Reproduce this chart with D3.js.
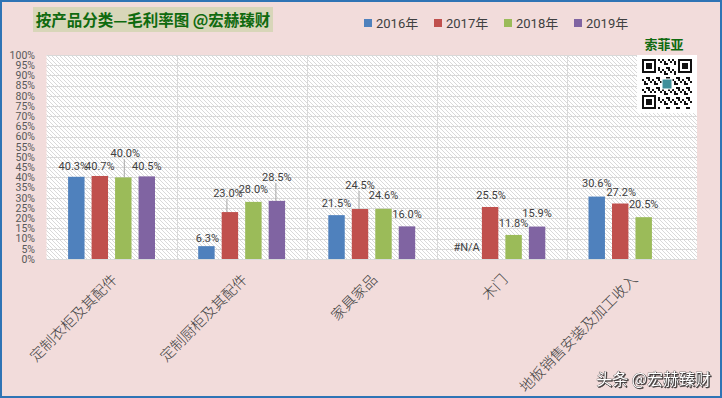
<!DOCTYPE html>
<html>
<head>
<meta charset="utf-8">
<script src="https://cdn.jsdelivr.net/npm/d3@7"></script>
<style>
  html, body { margin: 0; padding: 0; background: #f2dcdb; }
  svg { display: block; }
</style>
</head>
<body>
<div id="chart"></div>
<script>
/* ── Data ─────────────────────────────────────────────────────── */

const categories = ['定制衣柜及其配件', '定制厨柜及其配件', '家具家品', '木门', '地板销售安装及加工收入'];
const years = ['2016年', '2017年', '2018年', '2019年'];
const values2016 = [40.3, 6.3, 21.5, '#N/A', 30.6];
const values2017 = [40.7, 23.0, 24.5, 25.5, 27.2];
const values2018 = [40.0, 28.0, 24.6, 11.8, 20.5];
const values2019 = [40.5, 28.5, 16.0, 15.9, null];
const yTicks = d3.range(0, 101, 5);

const seriesValues = [values2016, values2017, values2018, values2019];
const colors = ['#4f81bd', '#c0504d', '#9bbb59', '#8064a2'];

// manual nudges of data labels (dx, dy) per category / year, as moved in the original
const labelNudge = [
  [[-3, 1], [0, 2], [2, -12], [0, 2]],
  [[1, 4], [-2, -7], [0, -1], [0, -12]],
  [[0, 0], [0, -12], [0, -2], [0, 0]],
  [[0, 0], [1, 0], [0, 0], [0, -2]],
  [[0, -2], [1, 0], [0, -1], [0, 0]],
];

/* ── Layout ───────────────────────────────────────────────────── */

const W = 722, H = 398;
const plot = { left: 46.5, right: 697, top: 55, bottom: 259 };

const svg = d3.select('#chart').append('svg')
  .attr('width', W)
  .attr('height', H)
  .attr('viewBox', `0 0 ${W} ${H}`);

svg.append('rect')
  .attr('x', 1).attr('y', 1)
  .attr('width', W - 2).attr('height', H - 2)
  .attr('fill', '#f2dcdb')
  .attr('stroke', '#2f74b5')
  .attr('stroke-width', 2);

// hatch fill for the plot area
const defs = svg.append('defs');
defs.append('pattern')
  .attr('id', 'hatch')
  .attr('patternUnits', 'userSpaceOnUse')
  .attr('width', 4).attr('height', 4)
  .call(p => p.append('rect').attr('width', 4).attr('height', 4).attr('fill', '#ffffff'))
  .append('path')
  .attr('d', 'M-1,-1L5,5M3,-1L5,1M-1,3L1,5')
  .attr('stroke', '#cfcfcf')
  .attr('stroke-width', 0.8);

/* ── Scales ───────────────────────────────────────────────────── */

const x0 = d3.scaleBand()
  .domain(categories)
  .range([plot.left, plot.right]);

const x1 = d3.scaleBand()
  .domain(years)
  .range([0, x0.bandwidth()])
  .paddingInner(0.3)
  .paddingOuter(0.92);

const y = d3.scaleLinear()
  .domain([0, 100])
  .range([plot.bottom, plot.top]);

/* ── Plot area + grid ─────────────────────────────────────────── */

svg.append('rect')
  .attr('x', plot.left).attr('y', plot.top)
  .attr('width', plot.right - plot.left)
  .attr('height', plot.bottom - plot.top)
  .attr('fill', 'url(#hatch)');

const grid = svg.append('g').attr('stroke', '#d9d9d9').attr('stroke-width', 1);
grid.selectAll('line.h')
  .data(yTicks)
  .join('line')
  .attr('class', 'h')
  .attr('x1', plot.left).attr('x2', plot.right)
  .attr('y1', d => Math.round(y(d)) + 0.5)
  .attr('y2', d => Math.round(y(d)) + 0.5);

grid.selectAll('line.v')
  .data(categories.slice(1))
  .join('line')
  .attr('class', 'v')
  .attr('x1', d => Math.round(x0(d)) + 0.5)
  .attr('x2', d => Math.round(x0(d)) + 0.5)
  .attr('y1', plot.top).attr('y2', plot.bottom);

/* ── Y axis ───────────────────────────────────────────────────── */

const yAxis = svg.append('g')
  .attr('transform', 'translate(35,0)')
  .call(d3.axisLeft(y).tickValues(yTicks).tickFormat(d => d + '%').tickSize(0).tickPadding(0));
yAxis.select('.domain').remove();
yAxis.selectAll('text')
  .attr('fill', '#595959')
  .attr('font-family', 'Roboto, "Liberation Sans", sans-serif')
  .attr('font-size', '10.5px');

/* ── Bars ─────────────────────────────────────────────────────── */

const cells = [];
categories.forEach((cat, i) => {
  years.forEach((yr, j) => {
    cells.push({ cat, yr, i, j, value: seriesValues[j][i] });
  });
});

const barX = d => x0(d.cat) + x1(d.yr);
const barCx = d => barX(d) + x1.bandwidth() / 2;
const numeric = d => typeof d.value === 'number';

svg.append('g').selectAll('rect')
  .data(cells.filter(numeric))
  .join('rect')
  .attr('x', barX)
  .attr('y', d => y(d.value))
  .attr('width', x1.bandwidth())
  .attr('height', d => y(0) - y(d.value))
  .attr('fill', d => colors[d.j]);

/* ── Data labels ──────────────────────────────────────────────── */

const labelled = cells.filter(d => d.value !== null);
const labelPos = d => {
  const [dx, dy] = labelNudge[d.i][d.j];
  const top = numeric(d) ? y(d.value) : y(0);
  return { x: barCx(d) + dx, y: top - 8 + dy, top };
};

// leader lines for labels that were dragged away from their bars
svg.append('g').selectAll('line')
  .data(labelled.filter(d => labelNudge[d.i][d.j][1] <= -7))
  .join('line')
  .attr('x1', d => labelPos(d).x - 1)
  .attr('x2', d => labelPos(d).x - 1)
  .attr('y1', d => labelPos(d).y + 2)
  .attr('y2', d => labelPos(d).top)
  .attr('stroke', '#a6a6a6')
  .attr('stroke-width', 1);

svg.append('g').selectAll('text')
  .data(labelled)
  .join('text')
  .attr('x', d => labelPos(d).x)
  .attr('y', d => labelPos(d).y)
  .attr('text-anchor', 'middle')
  .attr('font-family', 'Roboto, "Liberation Sans", sans-serif')
  .attr('font-size', '11px')
  .attr('fill', '#404040')
  .text(d => numeric(d) ? d.value.toFixed(1) + '%' : d.value);

/* ── Category labels ──────────────────────────────────────────── */

svg.append('g').selectAll('text')
  .data(categories)
  .join('text')
  .attr('transform', d => `translate(${x0(d) + x0.bandwidth() / 2 + 3},277) rotate(-45)`)
  .attr('text-anchor', 'end')
  .attr('dy', '0.35em')
  .attr('font-family', '"Noto Sans CJK SC", sans-serif')
  .attr('font-weight', 300)
  .attr('font-size', '14.5px')
  .attr('fill', '#404040')
  .text(d => d);

/* ── Title ────────────────────────────────────────────────────── */

svg.append('rect')
  .attr('x', 33).attr('y', 7)
  .attr('width', 240).attr('height', 25)
  .attr('fill', '#d8d6b9');
svg.append('text')
  .attr('x', 153).attr('y', 20)
  .attr('dy', '0.36em')
  .attr('text-anchor', 'middle')
  .attr('font-family', '"Noto Sans CJK SC", sans-serif')
  .attr('font-weight', 'bold')
  .attr('font-size', '15.5px')
  .attr('fill', '#0f6a0f')
  .text('按产品分类—毛利率图 @宏赫臻财');

/* ── Legend ───────────────────────────────────────────────────── */

const legend = svg.append('g').selectAll('g')
  .data(years)
  .join('g')
  .attr('transform', (d, i) => `translate(${364 + i * 70},19)`);
legend.append('rect')
  .attr('width', 8).attr('height', 8)
  .attr('fill', (d, i) => colors[i]);
legend.append('text')
  .attr('x', 12).attr('y', 4)
  .attr('dy', '0.36em')
  .attr('font-family', 'Roboto, "Noto Sans CJK SC", sans-serif')
  .attr('font-size', '13px')
  .attr('fill', '#404040')
  .text(d => d);

/* ── Brand + QR decoration ────────────────────────────────────── */

svg.append('text')
  .attr('x', 664).attr('y', 44)
  .attr('dy', '0.36em')
  .attr('text-anchor', 'middle')
  .attr('font-family', '"Noto Sans CJK SC", sans-serif')
  .attr('font-weight', 'bold')
  .attr('font-size', '13px')
  .attr('fill', '#0f6a0f')
  .text('索菲亚');

const qr = svg.append('g').attr('transform', 'translate(637,55)');
qr.append('rect').attr('width', 60).attr('height', 58).attr('fill', '#fff');
const N = 25, m = 2, ox = 5, oy = 4;
const inFinder = (r, c) =>
  (r < 8 && c < 8) || (r < 8 && c >= N - 8) || (r >= N - 8 && c < 8);
const modules = [];
for (let r = 0; r < N; r++) {
  for (let c = 0; c < N; c++) {
    if (inFinder(r, c)) continue;
    if ((r * r * 3 + c * 7 + r * c) % 5 < 2) modules.push([r, c]);
  }
}
qr.selectAll('rect.m')
  .data(modules)
  .join('rect')
  .attr('class', 'm')
  .attr('x', d => ox + d[1] * m).attr('y', d => oy + d[0] * m)
  .attr('width', m).attr('height', m)
  .attr('fill', '#111');
[[0, 0], [0, N - 7], [N - 7, 0]].forEach(([r, c]) => {
  qr.append('rect')
    .attr('x', ox + c * m + 1).attr('y', oy + r * m + 1)
    .attr('width', 7 * m - 2).attr('height', 7 * m - 2)
    .attr('fill', 'none').attr('stroke', '#111').attr('stroke-width', 2);
  qr.append('rect')
    .attr('x', ox + (c + 2) * m).attr('y', oy + (r + 2) * m)
    .attr('width', 3 * m).attr('height', 3 * m)
    .attr('fill', '#111');
});
qr.append('rect')
  .attr('x', ox + 10 * m).attr('y', oy + 10 * m)
  .attr('width', 5 * m).attr('height', 5 * m)
  .attr('fill', '#3f8f9a').attr('stroke', '#fff').attr('stroke-width', 1);

/* ── Watermark ────────────────────────────────────────────────── */

svg.append('text')
  .attr('x', 711).attr('y', 385)
  .attr('text-anchor', 'end')
  .attr('font-family', '"Noto Sans CJK SC", sans-serif')
  .attr('font-size', '16px')
  .attr('fill', '#ffffff')
  .attr('stroke', '#333')
  .attr('stroke-width', 0.6)
  .attr('paint-order', 'stroke')
  .style('filter', 'drop-shadow(1px 1px 0.5px rgba(0,0,0,0.7))')
  .text('头条 @宏赫臻财');
</script>
</body>
</html>
